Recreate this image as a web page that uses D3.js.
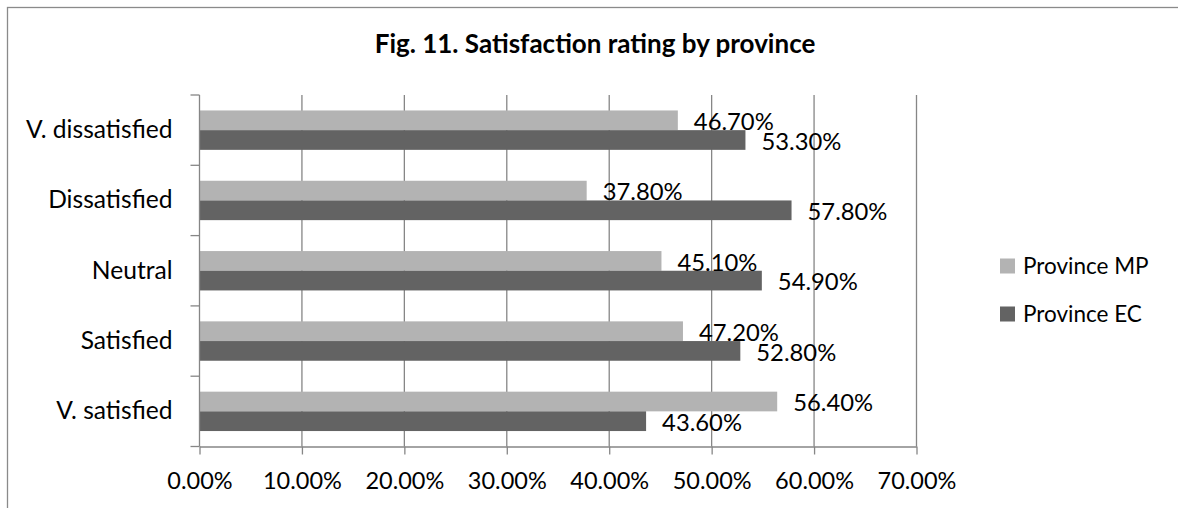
<!DOCTYPE html>
<html>
<head>
<meta charset="utf-8">
<script src="https://cdn.jsdelivr.net/npm/d3@7"></script>
<style>
  body { margin: 0; background: #fff; }
  svg { display: block; font-family: Lato, "Open Sans", sans-serif; }
</style>
</head>
<body>
<div id="chart"></div>
<script>
// chart data
const categories = ["V. dissatisfied", "Dissatisfied", "Neutral", "Satisfied", "V. satisfied"];
const seriesNames = ["Province MP", "Province EC"];
const provinceMP = [0.467, 0.378, 0.451, 0.472, 0.564];
const provinceEC = [0.533, 0.578, 0.549, 0.528, 0.436];
const xTicks = [0, 0.1, 0.2, 0.3, 0.4, 0.5, 0.6, 0.7];
const colors = ["#b3b3b3", "#636363"];

const W = 1178, H = 508;
const margin = { top: 95, left: 199.5, right: W - 916.5, bottom: H - 446.5 };

const svg = d3.select("#chart")
  .append("svg")
  .attr("width", W)
  .attr("height", H);

// outer frame (cut off at the right and bottom)
svg.append("rect")
  .attr("x", 7.5).attr("y", 7.5)
  .attr("width", W + 20).attr("height", H + 20)
  .attr("fill", "none")
  .attr("stroke", "#8a8a8a")
  .attr("stroke-width", 1.3);

// title
svg.append("text")
  .attr("x", 595).attr("y", 53)
  .attr("text-anchor", "middle")
  .style("font-size", "26px")
  .style("font-weight", "bold")
  .text("Fig. 11. Satisfaction rating by province");

const x = d3.scaleLinear()
  .domain([0, 0.7])
  .range([margin.left, W - margin.right]);

const y = d3.scaleBand()
  .domain(categories)
  .range([margin.top, H - margin.bottom])
  .padding(0);

const ySub = d3.scaleBand()
  .domain(seriesNames)
  .range([0, y.bandwidth()])
  .paddingInner(0)
  .paddingOuter(0.785);

// gridlines
svg.append("g")
  .selectAll("line")
  .data(xTicks.slice(1))
  .join("line")
  .attr("x1", d => x(d)).attr("x2", d => x(d))
  .attr("y1", margin.top).attr("y2", H - margin.bottom)
  .attr("stroke", "#868686")
  .attr("stroke-width", 1.3);

// bars
const rows = categories.map((c, i) => ({ cat: c, values: [provinceMP[i], provinceEC[i]] }));
const groups = svg.append("g")
  .selectAll("g")
  .data(rows)
  .join("g")
  .attr("transform", d => `translate(0,${y(d.cat)})`);

groups.selectAll("rect")
  .data(d => d.values.map((v, j) => ({ name: seriesNames[j], v, j })))
  .join("rect")
  .attr("x", x(0))
  .attr("y", d => ySub(d.name))
  .attr("width", d => x(d.v) - x(0))
  .attr("height", ySub.bandwidth())
  .attr("fill", d => colors[d.j]);

// data labels
groups.selectAll("text")
  .data(d => d.values.map((v, j) => ({ name: seriesNames[j], v, j })))
  .join("text")
  .attr("x", d => x(d.v) + 16)
  .attr("y", d => ySub(d.name) + ySub.bandwidth())
  .style("font-size", "23.8px")
  .text(d => d3.format(".2%")(d.v));

// bottom axis
const xAxis = svg.append("g")
  .attr("transform", `translate(0,${H - margin.bottom})`)
  .call(d3.axisBottom(x).tickValues(xTicks).tickFormat(d3.format(".2%")).tickSize(8).tickSizeOuter(0).tickPadding(18));
xAxis.select(".domain").attr("stroke", "#868686").attr("stroke-width", 1.3);
xAxis.selectAll(".tick line").attr("stroke", "#868686").attr("stroke-width", 1.3);
xAxis.selectAll("text").style("font-size", "23.5px").attr("fill", "#000").style("font-family", "Lato, sans-serif");

// left axis: labels centred, ticks between categories
const yAxis = svg.append("g")
  .attr("transform", `translate(${margin.left},0)`)
  .call(d3.axisLeft(y).tickSize(0).tickPadding(27));
yAxis.select(".domain").remove();
yAxis.selectAll("text").style("font-size", "24.6px").attr("fill", "#000").style("font-family", "Lato, sans-serif");

const bounds = categories.map(c => y(c)).concat([y.range()[1]]);
svg.append("g")
  .selectAll("line")
  .data(bounds)
  .join("line")
  .attr("x1", margin.left - 9).attr("x2", margin.left)
  .attr("y1", d => d).attr("y2", d => d)
  .attr("stroke", "#868686")
  .attr("stroke-width", 1.3);
svg.append("line")
  .attr("x1", margin.left).attr("x2", margin.left)
  .attr("y1", margin.top).attr("y2", H - margin.bottom)
  .attr("stroke", "#868686")
  .attr("stroke-width", 1.3);

// legend
const legend = svg.append("g")
  .selectAll("g")
  .data(seriesNames)
  .join("g")
  .attr("transform", (d, i) => `translate(1000,${266 + i * 48})`);
legend.append("rect")
  .attr("x", 0).attr("y", -7.5)
  .attr("width", 15).attr("height", 15)
  .attr("fill", (d, i) => colors[i]);
legend.append("text")
  .attr("x", 23).attr("y", 0)
  .attr("dy", "0.36em")
  .style("font-size", "22.5px")
  .text(d => d);
</script>
</body>
</html>
